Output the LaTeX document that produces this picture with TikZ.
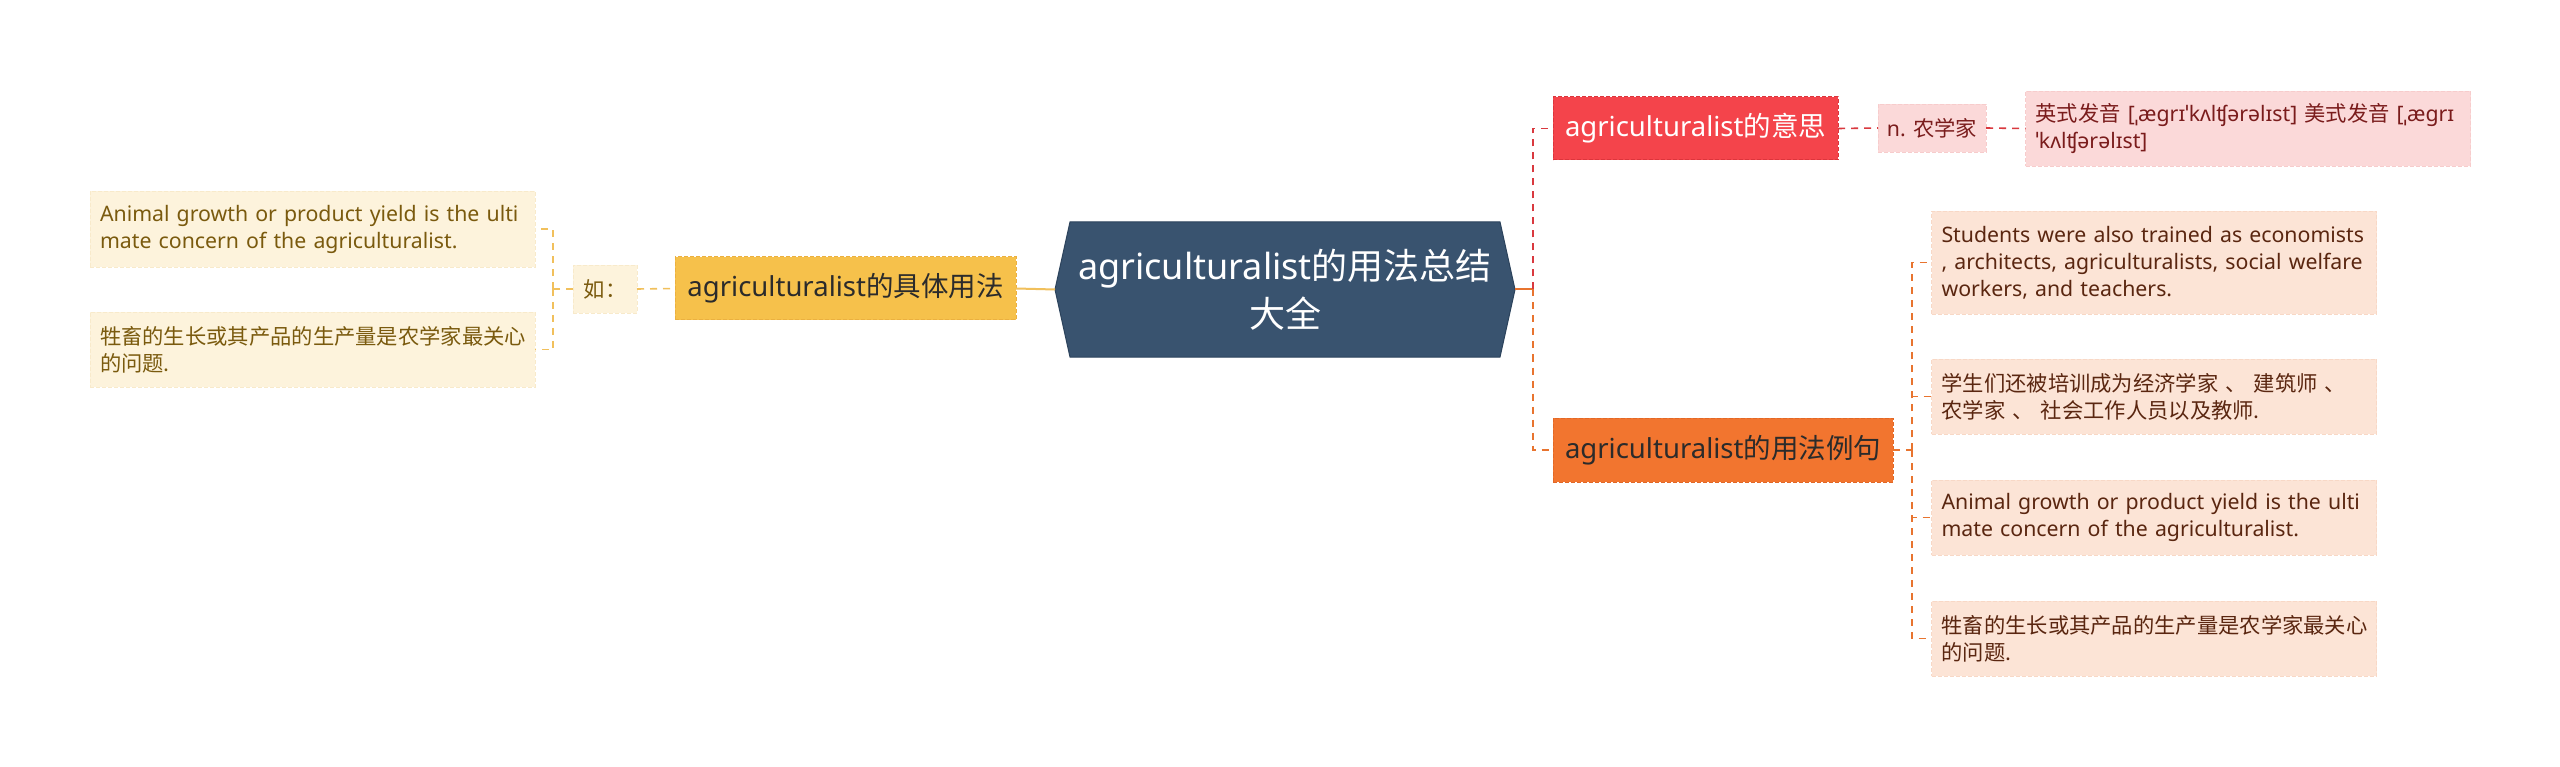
\documentclass[tikz,border=0pt]{standalone}
\usepackage{fontspec}
\setmainfont{Noto Sans}
\newfontfamily\cjkfont{Noto Sans CJK SC}
\usetikzlibrary{backgrounds}
\newcommand\zhf[1]{{\cjkfont #1}}
\hyphenpenalty=10000
\exhyphenpenalty=10000
\definecolor{cfill}{HTML}{39536F}
\definecolor{cborder}{HTML}{2C435C}
\definecolor{yfill}{HTML}{F6C14B}
\definecolor{yborder}{HTML}{EBB040}
\definecolor{cream}{HTML}{FDF3DC}
\definecolor{creamb}{HTML}{F8EACB}
\definecolor{creamtext}{HTML}{7A5A0E}
\definecolor{rfill}{HTML}{F4444B}
\definecolor{rborder}{HTML}{DC353C}
\definecolor{pink}{HTML}{FBD9D9}
\definecolor{pinkb}{HTML}{F7CCCC}
\definecolor{pinktext}{HTML}{7A1C1C}
\definecolor{ofill}{HTML}{F2752F}
\definecolor{oborder}{HTML}{E26826}
\definecolor{peach}{HTML}{FCE4D6}
\definecolor{peachb}{HTML}{F8D8C6}
\definecolor{peachtext}{HTML}{5A2610}
\definecolor{darktext}{HTML}{2B2B2B}
\definecolor{ylin}{HTML}{F1C05C}
\definecolor{rlin}{HTML}{D9393F}
\definecolor{olin}{HTML}{E8742F}
\begin{document}
\hyphenpenalty=10000
\exhyphenpenalty=10000
\begin{tikzpicture}[x=1pt,y=-1pt,
  branch/.style={inner sep=0pt, outer sep=0pt, align=center, minimum height=63pt,
    font=\fontsize{27.5}{33}\selectfont, draw, dash pattern=on 4pt off 2pt, line width=1pt},
  small/.style={inner sep=0pt, outer sep=0pt, align=center,
    font=\fontsize{21.3}{27}\selectfont, draw, dash pattern=on 4pt off 2pt, line width=0.8pt},
  leaf/.style={inner xsep=10pt, inner ysep=0pt, outer sep=0pt, text width=425pt, align=left,
    font=\fontsize{21.3}{27}\selectfont,
    draw, dash pattern=on 4pt off 2pt, line width=0.8pt},
  cream leaf/.style={leaf, fill=cream, draw=creamb, text=creamtext},
  peach leaf/.style={leaf, fill=peach, draw=peachb, text=peachtext},
  ysolid/.style={draw=ylin, line width=2pt},
  ydash/.style={draw=ylin, line width=1.6pt, dash pattern=on 7pt off 6pt},
  rdash/.style={draw=rlin, line width=1.6pt, dash pattern=on 7pt off 6pt},
  osolid/.style={draw=olin, line width=2pt},
  odash/.style={draw=olin, line width=1.6pt, dash pattern=on 7pt off 6pt}]
\begin{scope}[on background layer]
\fill[white] (0,0) rectangle (2560,767);
\end{scope}
\path[use as bounding box] (0,0) rectangle (2560,767);

% centre
\node[font=\fontsize{36}{48}\selectfont, text=white, minimum width=460pt, minimum height=135pt,
  inner sep=0pt, outer sep=0pt, align=center] (c) at (1285,289.5)
  {agriculturalist\zhf{的用法总结}\\\zhf{大全}};
\begin{scope}[on background layer]
\filldraw[fill=cfill, draw=cborder, line width=1pt] (c.west) -- ([xshift=15pt]c.north west) -- ([xshift=-15pt]c.north east)
  -- (c.east) -- ([xshift=-15pt]c.south east) -- ([xshift=15pt]c.south west) -- cycle;
\end{scope}

% left branch
\node[branch, fill=yfill, draw=yborder, text=darktext, minimum width=341pt] (y1) at (845.5,288.5)
  {agriculturalist\zhf{的具体用法}};
\node[small, fill=cream, draw=creamb, text=creamtext, minimum width=64pt, minimum height=48pt] (ru) at (605,289)
  {\zhf{如：}};
\node[cream leaf, minimum height=76pt] (L1) at (312.5,229)
  {Animal growth or product yield is the ulti\\mate concern of the agriculturalist.};
\node[cream leaf, minimum height=75pt] (L2) at (312.5,349.5)
  {\zhf{牲畜的生长或其产品的生产量是农学家最关心}\\\zhf{的问题.}};

% right branches
\node[branch, fill=rfill, draw=rborder, text=white, minimum width=285pt] (r1) at (1695.5,128.5)
  {agriculturalist\zhf{的意思}};
\node[small, fill=pink, draw=pinkb, text=pinktext, minimum width=108pt, minimum height=48pt] (n1) at (1932,128)
  {n. \zhf{农学家}};
\node[leaf, fill=pink, draw=pinkb, text=pinktext, minimum height=75pt] (p1) at (2248,128.5)
  {\zhf{英式发音} [ˌæɡrɪˈkʌlʧərəlɪst] \zhf{美式发音} [ˌæɡrɪ\\ˈkʌlʧərəlɪst]};

\node[branch, fill=ofill, draw=oborder, text=darktext, minimum width=340pt, minimum height=64pt] (o1) at (1723,450)
  {agriculturalist\zhf{的用法例句}};
\node[peach leaf, minimum height=103pt] (R1) at (2154,262.5)
  {Students were also trained as economists\\, architects, agriculturalists, social welfare\\workers, and teachers.};
\node[peach leaf, minimum height=75pt] (R2) at (2154,396.5)
  {\zhf{学生们还被培训成为经济学家 、 建筑师 、}\\\zhf{农学家 、 社会工作人员以及教师.}};
\node[peach leaf, minimum height=75pt] (R3) at (2154,517.5)
  {Animal growth or product yield is the ulti\\mate concern of the agriculturalist.};
\node[peach leaf, minimum height=75pt] (R4) at (2154,638.5)
  {\zhf{牲畜的生长或其产品的生产量是农学家最关心}\\\zhf{的问题.}};

% junctions
\coordinate (jl) at (553,289);
\coordinate (jr) at (1533,289.5);
\coordinate (jo) at (1912,450);

% connectors
\draw[ysolid] (y1.east) -- (c.west);
\draw[ydash] (ru.east) -- (y1.west);
\draw[ydash] (ru.west) -- (jl);
\draw[ydash] (jl) |- (L1.east);
\draw[ydash] (jl) |- (L2.east);

\draw[osolid] (c.east) -- (jr);
\draw[rdash] (jr) |- (r1.west);
\draw[odash] (jr) |- (o1.west);
\draw[rdash] (r1.east) -- (n1.west);
\draw[rdash] (n1.east) -- (p1.west);

\draw[odash] (o1.east) -- (jo);
\draw[odash] (jo) |- (R1.west);
\draw[odash] (jo) |- (R2.west);
\draw[odash] (jo) |- (R3.west);
\draw[odash] (jo) |- (R4.west);
\end{tikzpicture}
\end{document}
